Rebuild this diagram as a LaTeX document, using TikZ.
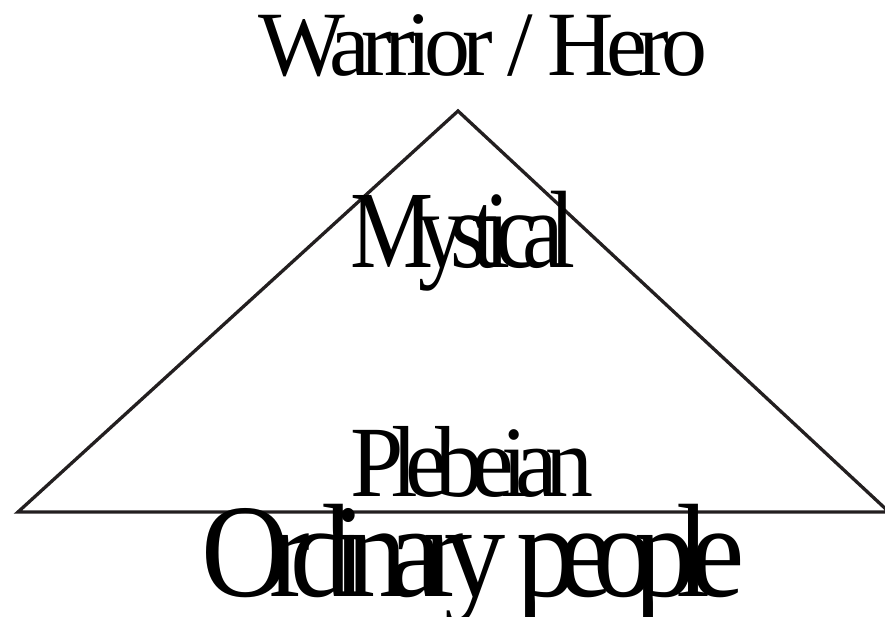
\documentclass[tikz,border=0pt]{standalone}
\usepackage{fontspec}
\setmainfont{Liberation Serif}
\definecolor{edge}{HTML}{231F20}
\newcommand{\squeezed}[4]{\scalebox{#1}[1]{\fontsize{#2}{#2}\selectfont\addfontfeatures{LetterSpace=#3}#4}}
\begin{document}
\begin{tikzpicture}[x=1pt,y=1pt,
  lbl/.style={anchor=base west,inner sep=0pt,outer sep=0pt,text=black},
  tri/.style={draw=edge,line width=3.3pt,line join=miter}]
\useasboundingbox (0,0) rectangle (885,616);
\coordinate (apex) at (458,505);
\coordinate (bl) at (18,104);
\coordinate (br) at (889,104);
\draw[tri] (bl) -- (apex) -- (br) -- cycle;
\node[lbl] (warrior) at (258,540) {\squeezed{1.0}{92}{-8.9}{Warrior / Hero}};
\node[lbl] (mystical) at (350,348) {\squeezed{0.85}{110}{-15.5}{Mystical}};
\node[lbl] (plebeian) at (350,120) {\squeezed{0.95}{101}{-12.9}{Plebeian}};
\node[lbl] (ordinary) at (201,20) {\squeezed{0.92}{133}{-16.0}{Ordinary people}};
\end{tikzpicture}
\end{document}
